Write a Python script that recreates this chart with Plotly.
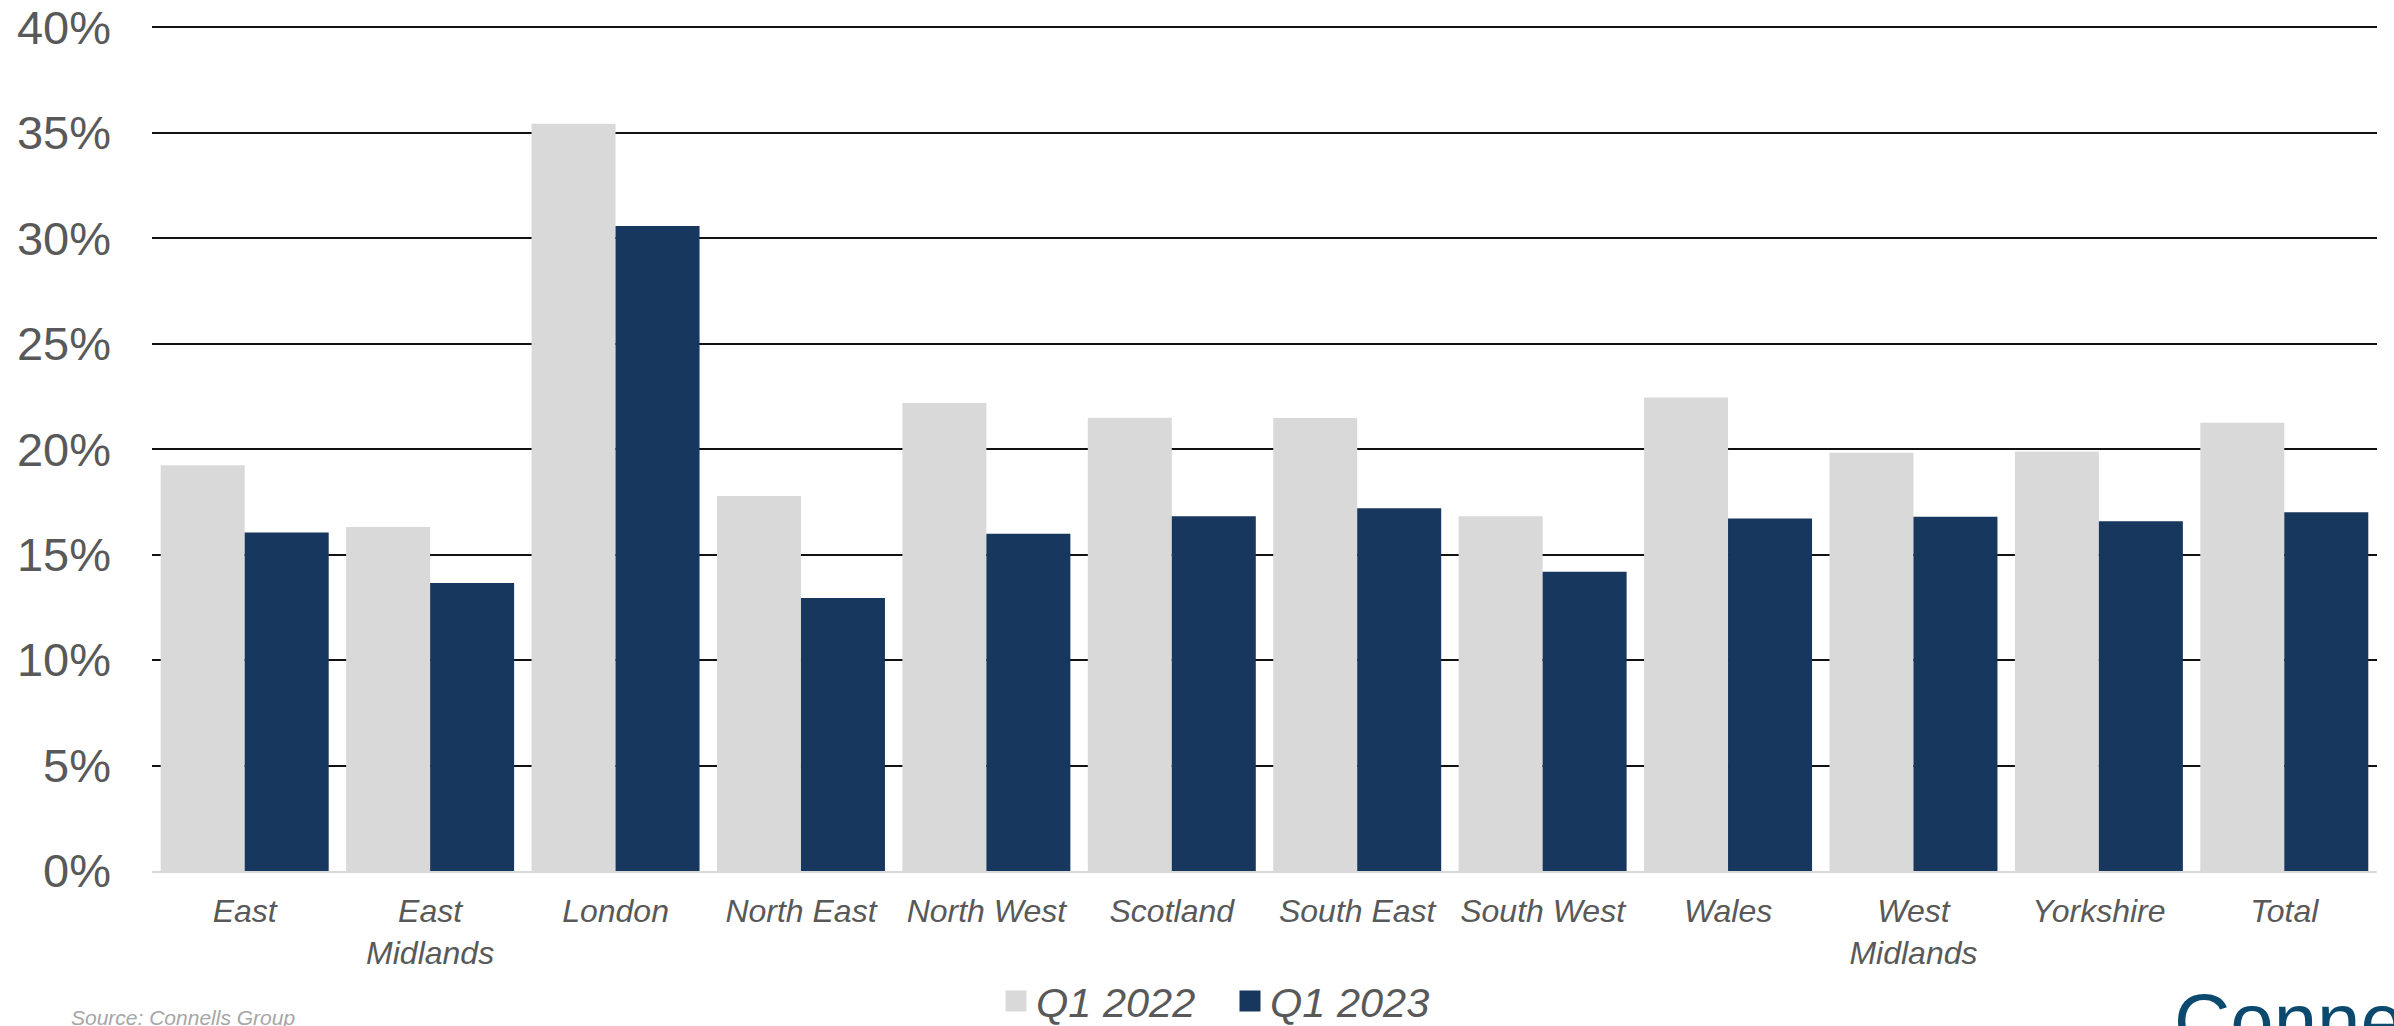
import plotly.graph_objects as go

# ---- data ----
categories = ["East", "East Midlands", "London", "North East", "North West", "Scotland",
              "South East", "South West", "Wales", "West Midlands", "Yorkshire", "Total"]
tick_labels = ["East", "East<br>Midlands", "London", "North East", "North West", "Scotland",
               "South East", "South West", "Wales", "West<br>Midlands", "Yorkshire", "Total"]
q1_2022 = [0.1923, 0.1630, 0.3542, 0.1777, 0.2218, 0.2148,
           0.2147, 0.1681, 0.2244, 0.1982, 0.1988, 0.2125]
q1_2023 = [0.1605, 0.1365, 0.3057, 0.1294, 0.1599, 0.1681,
           0.1720, 0.1419, 0.1671, 0.1679, 0.1658, 0.1701]
series_names = ["Q1 2022", "Q1 2023"]
y_ticks = [0, 0.05, 0.10, 0.15, 0.20, 0.25, 0.30, 0.35, 0.40]
source_text = "Source: Connells Group"
logo_text = "Connells"

# ---- styles ----
LIGHT = "#d9d9d9"
DARK = "#17375e"
TEXT = "#595959"
FONT = "Liberation Sans, Arial, sans-serif"

W, H = 2394, 1026
ML, MR, MT, MB = 152, 17, 25, 155
PW, PH = W - ML - MR, H - MT - MB


def px_x(x):
    return (x - ML) / PW


def px_y(y):
    return (H - MB - y) / PH


fig = go.Figure()
for name, vals, col in [(series_names[0], q1_2022, LIGHT), (series_names[1], q1_2023, DARK)]:
    fig.add_trace(go.Bar(x=categories, y=vals, name=name, marker_color=col,
                         marker_line_width=0, showlegend=False))
    # legend proxy with larger square symbol
    fig.add_trace(go.Scatter(x=[None], y=[None], mode="markers", name=name,
                             marker=dict(symbol="square", size=16, color=col,
                                         line=dict(width=5, color=col)),
                             showlegend=True))

fig.update_layout(
    width=W, height=H, autosize=False,
    margin=dict(l=ML, r=MR, t=MT, b=MB, pad=0, autoexpand=False),
    paper_bgcolor="white", plot_bgcolor="white",
    barmode="group", bargap=0.094, bargroupgap=0,
    font=dict(family=FONT, color=TEXT),
    legend=dict(orientation="h", x=px_x(996), xanchor="left",
                y=px_y(1001), yanchor="middle", entrywidth=189,
                font=dict(size=41.5, color=TEXT, style="italic", family=FONT),
                bgcolor="rgba(0,0,0,0)", traceorder="normal"),
    xaxis=dict(tickmode="array", tickvals=categories, ticktext=tick_labels,
               tickfont=dict(size=32, color=TEXT, style="italic", family=FONT),
               showline=True, linecolor=LIGHT, linewidth=2, ticks="",
               showgrid=False, zeroline=False, ticklabelstandoff=11),
    yaxis=dict(range=[0, 0.401], tickmode="array", tickvals=y_ticks, tickformat=".0%",
               tickfont=dict(size=47, color=TEXT, family=FONT),
               showgrid=True, gridcolor="#111111", gridwidth=2,
               zeroline=False, showline=False, ticks="", ticklabelstandoff=40),
    annotations=[
        dict(text=source_text, xref="paper", yref="paper", x=px_x(69), y=px_y(1004),
             xanchor="left", yanchor="top", showarrow=False,
             font=dict(size=21, color="#a6a6a6", style="italic", family=FONT)),
        dict(text=logo_text, xref="paper", yref="paper", x=px_x(2172), y=px_y(975),
             xanchor="left", yanchor="top", showarrow=False,
             font=dict(size=78, color="#0b4a6e", family=FONT)),
    ],
)

fig.write_html("out.html")
